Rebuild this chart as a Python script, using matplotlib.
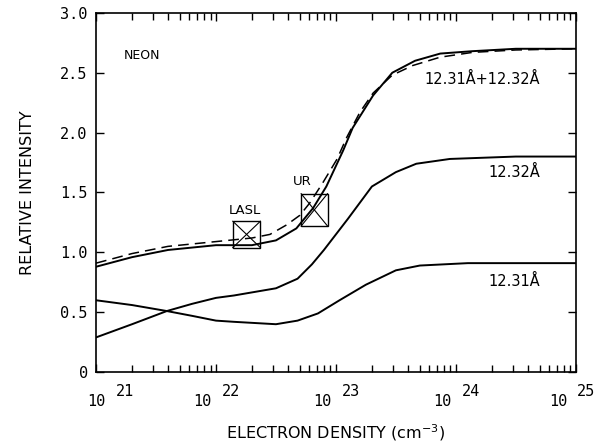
import numpy as np
import matplotlib.pyplot as plt
from matplotlib.patches import Rectangle
from matplotlib.ticker import LogLocator, NullFormatter

plt.rcParams['font.family'] = ['DejaVu Sans']

# данные (log10 плотности электронов и относительная интенсивность)
sum_logn = [21.0, 21.3, 21.6, 22.0, 22.3, 22.5, 22.67, 22.81, 22.92, 23.06, 23.14,
            23.31, 23.47, 23.66, 23.87, 24.14, 24.5, 25.0]
sum_int = [0.88, 0.96, 1.02, 1.06, 1.06, 1.10, 1.20, 1.37, 1.55, 1.85, 2.04,
           2.31, 2.50, 2.60, 2.66, 2.68, 2.70, 2.70]

dash_logn = [21.0, 21.3, 21.6, 22.0, 22.3, 22.45, 22.59, 22.7, 22.78, 22.89, 23.01,
             23.09, 23.2, 23.31, 23.47, 23.64, 23.87, 24.14, 24.5, 25.0]
dash_int = [0.91, 0.99, 1.05, 1.09, 1.12, 1.15, 1.23, 1.31, 1.41, 1.58, 1.78,
            1.96, 2.17, 2.33, 2.48, 2.56, 2.63, 2.67, 2.69, 2.70]

l1232_logn = [21.0, 21.3, 21.59, 21.8, 22.0, 22.15, 22.5, 22.68, 22.8, 22.9, 23.0,
              23.1, 23.3, 23.5, 23.67, 23.95, 24.5, 25.0]
l1232_int = [0.29, 0.40, 0.51, 0.57, 0.62, 0.64, 0.70, 0.78, 0.90, 1.02, 1.15,
             1.28, 1.55, 1.67, 1.74, 1.78, 1.80, 1.80]

l1231_logn = [21.0, 21.3, 21.59, 21.8, 22.0, 22.15, 22.5, 22.68, 22.85, 23.03,
              23.25, 23.5, 23.7, 24.1, 25.0]
l1231_int = [0.60, 0.56, 0.51, 0.47, 0.43, 0.42, 0.40, 0.43, 0.49, 0.60,
             0.73, 0.85, 0.89, 0.91, 0.91]

# экспериментальные точки (прямоугольники)
box_names = ['LASL', 'UR']
box_logn_lo = [22.14, 22.71]
box_logn_hi = [22.37, 22.93]
box_int_lo = [1.04, 1.22]
box_int_hi = [1.26, 1.49]
box_name_logn = [22.24, 22.72]
box_name_int = [1.35, 1.59]

decades = [21, 22, 23, 24, 25]

fig = plt.figure(figsize=(6.08, 4.43), dpi=100)
ax = fig.add_axes([0.158, 0.160, 0.789, 0.811])

ax.plot(10.0 ** np.array(sum_logn), sum_int, color='black', lw=1.4)
ax.plot(10.0 ** np.array(dash_logn), dash_int, color='black', lw=1.1, ls=(0, (7, 4)))
ax.plot(10.0 ** np.array(l1232_logn), l1232_int, color='black', lw=1.4)
ax.plot(10.0 ** np.array(l1231_logn), l1231_int, color='black', lw=1.4)

for i, name in enumerate(box_names):
    xa, xb = 10.0 ** box_logn_lo[i], 10.0 ** box_logn_hi[i]
    y0, y1 = box_int_lo[i], box_int_hi[i]
    ax.add_patch(Rectangle((xa, y0), xb - xa, y1 - y0, fill=False, ec='black', lw=1.0))
    ax.plot([xa, xb], [y0, y1], color='black', lw=0.8)
    ax.plot([xa, xb], [y1, y0], color='black', lw=0.8)
    ax.text(10.0 ** box_name_logn[i], box_name_int[i], name, ha='center', va='center', fontsize=9.5)

ax.set_xscale('log')
ax.set_xlim(1e21, 1e25)
ax.set_ylim(0, 3.0)

ax.xaxis.set_major_locator(LogLocator(base=10, numticks=10))
ax.xaxis.set_minor_locator(LogLocator(base=10, subs=np.arange(2, 10), numticks=20))
ax.xaxis.set_major_formatter(NullFormatter())
ax.xaxis.set_minor_formatter(NullFormatter())
ax.set_yticks([0, 0.5, 1.0, 1.5, 2.0, 2.5, 3.0])
ax.set_yticklabels(['0', '0.5', '1.0', '1.5', '2.0', '2.5', '3.0'],
                   fontsize=11, family='DejaVu Sans Mono')

ax.tick_params(which='both', direction='in', top=True, right=True, width=1.0)
ax.tick_params(which='major', length=6, pad=6)
ax.tick_params(which='minor', length=5)
for s in ax.spines.values():
    s.set_linewidth(1.2)

# подписи декад: 10 и показатель степени
xtr = ax.get_xaxis_transform()
for i, d in enumerate(decades):
    shift = 10 if i == 0 else (-3 if i == len(decades) - 1 else 0)
    ax.annotate('10', xy=(10.0 ** d, 0), xycoords=xtr, xytext=(-3 + shift, -21),
                textcoords='offset points', ha='right', va='center', fontsize=11,
                family='DejaVu Sans Mono')
    ax.annotate(str(d), xy=(10.0 ** d, 0), xycoords=xtr, xytext=(4 + shift, -14),
                textcoords='offset points', ha='left', va='center', fontsize=11,
                family='DejaVu Sans Mono')

ax.text(0.058, 0.872, 'NEON', transform=ax.transAxes, fontsize=9)
ax.text(10.0 ** 24.22, 2.44, '12.31Å+12.32Å', ha='center', va='center', fontsize=10.5)
ax.text(10.0 ** 24.49, 1.67, '12.32Å', ha='center', va='center', fontsize=10.5)
ax.text(10.0 ** 24.49, 0.76, '12.31Å', ha='center', va='center', fontsize=10.5)

ax.set_ylabel('RELATIVE INTENSITY', fontsize=11.5, labelpad=18)
ax.set_xlabel('ELECTRON DENSITY (cm$^{-3}$)', fontsize=11.5, labelpad=30)

fig.savefig('out.png', dpi=100)
